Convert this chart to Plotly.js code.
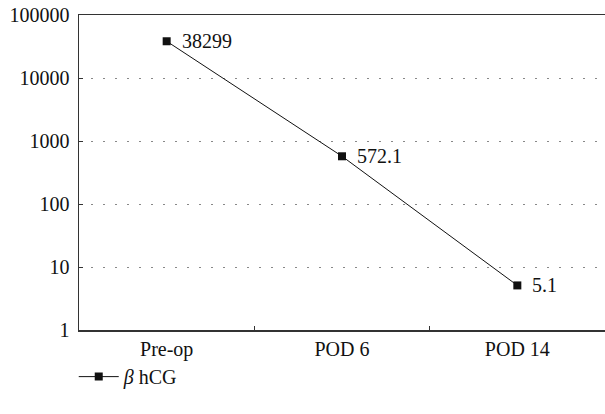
<!DOCTYPE html>
<html>
<head>
<meta charset="utf-8">
<script src="https://cdn.plot.ly/plotly-3.0.1.min.js"></script>
<style>html,body{margin:0;padding:0;background:#fff;}#chart{width:605px;height:414px;}</style>
</head>
<body>
<div id="chart"></div>
<script>
const categories = ["Pre-op", "POD 6", "POD 14"];
const hcgValues = [38299, 572.1, 5.1];
const valueLabels = ["38299", "572.1", "5.1"];
const yTickVals = [1, 10, 100, 1000, 10000, 100000];
const yTickText = ["1", "10", "100", "1000", "10000", "100000"];

const FONT = "Liberation Serif, Times New Roman, serif";

const trace = {
  x: categories,
  y: hcgValues,
  type: "scatter",
  mode: "lines+markers",
  name: "<i>β</i>&nbsp;hCG",
  line: {color: "#111", width: 1},
  marker: {symbol: "square", size: 8, color: "#111"},
  cliponaxis: false
};

const annotations = categories.map((c, i) => ({
  x: c, y: Math.log10(hcgValues[i]), xref: "x", yref: "y",
  text: valueLabels[i], showarrow: false, xanchor: "left", yanchor: "middle",
  xshift: 13, font: {family: FONT, size: 20, color: "#111"}
}));

const layout = {
  width: 605, height: 414,
  margin: {l: 79, r: 0, t: 15, b: 84},
  paper_bgcolor: "#fff", plot_bgcolor: "#fff",
  font: {family: FONT, size: 20, color: "#111"},
  showlegend: true,
  legend: {x: -0.01, xanchor: "left", y: -0.148, yanchor: "middle", orientation: "h",
           itemwidth: 40,
           font: {family: FONT, size: 20, color: "#111"}},
  xaxis: {
    type: "category", range: [-0.5, 2.5],
    showline: true, linecolor: "#333", linewidth: 1.5, mirror: true,
    ticks: "inside", tickson: "boundaries", ticklen: 4, tickcolor: "#333", tickwidth: 1,
    showgrid: false, zeroline: false, fixedrange: true
  },
  yaxis: {
    type: "log", range: [0, 5],
    tickvals: yTickVals, ticktext: yTickText,
    showline: true, linecolor: "#333", linewidth: 1.5,
    ticks: "inside", ticklen: 4, tickcolor: "#333", tickwidth: 1,
    showgrid: true, gridcolor: "#888", gridwidth: 1, griddash: "1.5px,10.5px",
    zeroline: false, ticklabelstandoff: 4, fixedrange: true
  },
  annotations: annotations
};

Plotly.newPlot("chart", [trace], layout, {displayModeBar: false, staticPlot: true});
</script>
</body>
</html>
